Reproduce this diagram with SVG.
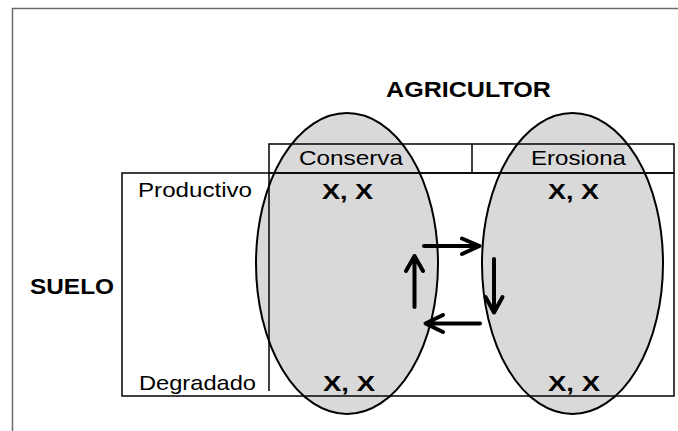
<svg xmlns="http://www.w3.org/2000/svg" width="678" height="431" viewBox="0 0 678 431">
<style>
.frame{fill:none;stroke:#6b6b6b;stroke-width:1.5}
.ell{fill:#d9d9d9;stroke:#000;stroke-width:2}
.tbl{fill:none;stroke:#000;stroke-width:1.5}
.t{font-family:"Liberation Sans",Arial,sans-serif;font-size:21px;fill:#000}
.b{font-family:"Liberation Sans",Arial,sans-serif;font-size:22px;font-weight:bold;fill:#000}
.x{font-family:"Liberation Sans",Arial,sans-serif;font-size:22px;font-weight:bold;fill:#000}
.arr{fill:none;stroke:#000;stroke-width:4;stroke-linecap:round;stroke-linejoin:round}
</style>
<rect width="678" height="431" fill="#fff"/>
<path class="frame" d="M12.5,431 V8.5 H678"/>
<g id="agricultor-conserva"><ellipse class="ell" cx="347" cy="263.5" rx="91" ry="150.5"/></g>
<g id="agricultor-erosiona"><ellipse class="ell" cx="572.5" cy="263.5" rx="90.5" ry="150.5"/></g>
<g id="table">
<rect class="tbl" x="269" y="144" width="405" height="29"/>
<line class="tbl" x1="472" y1="144" x2="472" y2="173"/>
<rect class="tbl" x="122" y="173" width="552" height="223"/>
<line class="tbl" x1="269" y1="173" x2="269" y2="391"/>
</g>
<g id="labels">
<text class="b" x="386" y="97" textLength="165" lengthAdjust="spacingAndGlyphs">AGRICULTOR</text>
<text class="b" x="30" y="294" textLength="84" lengthAdjust="spacingAndGlyphs">SUELO</text>
<text class="t" x="299" y="165" textLength="104" lengthAdjust="spacingAndGlyphs">Conserva</text>
<text class="t" x="531" y="165" textLength="95" lengthAdjust="spacingAndGlyphs">Erosiona</text>
<text class="t" x="138" y="197" textLength="114" lengthAdjust="spacingAndGlyphs">Productivo</text>
<text class="t" x="139" y="390" textLength="117" lengthAdjust="spacingAndGlyphs">Degradado</text>
<text class="x" x="322" y="199" textLength="51" lengthAdjust="spacingAndGlyphs">X, X</text>
<text class="x" x="548" y="199" textLength="51" lengthAdjust="spacingAndGlyphs">X, X</text>
<text class="x" x="323" y="391" textLength="52" lengthAdjust="spacingAndGlyphs">X, X</text>
<text class="x" x="548" y="391" textLength="52" lengthAdjust="spacingAndGlyphs">X, X</text>
</g>
<g id="connectors">
<path class="arr" d="M424,246 H479 M462,238.5 L479.5,246 L462,254"/>
<path class="arr" d="M494,259 V312 M485.5,297 L494,312.5 L502.5,297"/>
<path class="arr" d="M480,323.5 H426 M443,315 L425.5,323.5 L443,332"/>
<path class="arr" d="M414.5,307 V257 M406,271 L414.5,256 L423,271"/>
</g>
</svg>
